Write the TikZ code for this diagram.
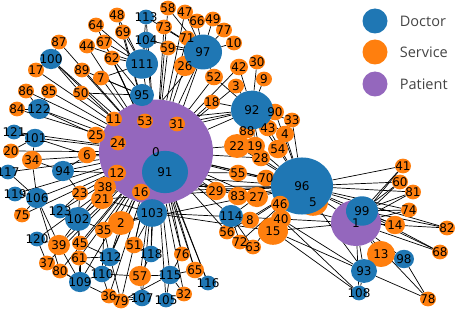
\documentclass[tikz,border=0pt]{standalone}
\usepackage{fontspec}
\usepackage{xcolor}
\usepackage{tikz}
\usetikzlibrary{positioning,shapes.geometric,backgrounds}
\newfontfamily\numfont{DejaVu Sans}
\newfontfamily\keyfont{Open Sans}
\definecolor{doctorblue}{HTML}{1F77B4}
\definecolor{serviceorange}{HTML}{FF7F0E}
\definecolor{patientpurple}{HTML}{9467BD}
\definecolor{keygray}{HTML}{444444}

\begin{document}
\begin{tikzpicture}[x=1pt,y=-1pt,
  vertex/.style={ellipse,inner sep=0pt,minimum width=2*#1*1pt,minimum height=1.84*#1*1pt},
  numlabel/.style={inner sep=0pt,font=\numfont\fontsize{12}{12}\selectfont},
  link/.style={black,line width=0.7pt},
  keydot/.style={circle,inner sep=0pt,minimum size=25pt},
  keytext/.style={inner sep=0pt,text=keygray,font=\keyfont\fontsize{14.5}{14.5}\selectfont}]
\useasboundingbox (0,0) rectangle (456,310);
% Patients
\foreach \n/\x/\y/\r in {0/156/152/57, 1/356/223/25}
  \node[vertex=\r,fill=patientpurple] (v\n) at (\x,\y) {};
% Services
\foreach \n/\x/\y/\r in {2/121/223/13, 3/236/86/8, 4/285/134/9, 5/313/202/15, 6/87/155/9,
  7/101/78/8, 8/250/220/9, 9/264/79/8, 10/234/43/8, 11/114/119/8, 12/117/173/9,
  13/381/254/14, 14/395/225/10, 15/273/231/15, 16/141/192/9, 17/36/70/8, 18/212/102/8,
  19/255/146/10, 20/11/151/8, 21/102/199/11, 22/237/146/13, 23/80/193/8, 24/118/143/8,
  25/96/135/9, 26/185/66/11, 27/257/197/11, 28/261/158/9, 29/216/191/10, 30/257/62/8,
  31/177/124/8, 32/184/294/8, 33/292/120/8, 34/32/160/10, 35/104/230/9, 36/109/296/8,
  37/47/263/8, 38/105/187/11, 39/59/245/11, 40/281/219/10, 41/403/166/8, 42/239/67/9,
  43/268/128/9, 44/87/46/8, 45/80/243/8, 47/185/12/8, 48/117/15/8, 49/213/19/8,
  50/81/93/8, 51/134/245/9, 52/214/77/9, 53/145/121/8, 54/278/149/10, 55/238/173/9,
  56/227/232/8, 57/140/276/11, 58/168/8/8, 59/168/48/8, 60/400/182/8, 61/79/258/8,
  62/112/58/8, 63/253/247/8, 64/96/25/8, 65/195/270/9, 66/197/21/8, 67/104/42/8,
  68/440/252/8, 69/123/32/8, 70/266/178/9, 71/187/38/8, 72/240/242/8, 73/164/27/8,
  74/409/210/8, 75/22/215/8, 76/182/254/8, 77/224/30/8, 78/428/299/8, 79/121/301/8,
  80/60/271/8, 81/413/192/8, 82/447/228/8, 83/238/196/10, 84/17/109/8, 85/49/91/8,
  86/26/91/8, 87/59/42/8, 88/247/131/8, 89/82/70/8, 90/275/112/9}
  \node[vertex=\r,fill=serviceorange] (v\n) at (\x,\y) {};
% Doctors
\foreach \n/\x/\y/\r in {91/165/172/23, 92/252/110/21, 93/364/271/13, 94/63/171/11,
  95/142/95/12, 96/302/186/31, 97/203/52/19, 98/404/259/10, 99/362/211/16,
  100/51/59/11, 101/35/138/10, 102/78/219/13, 103/152/213/15, 104/146/40/9,
  105/166/300/8, 106/37/198/11, 107/142/298/9, 108/359/293/8, 109/80/282/11,
  110/102/274/9, 111/142/64/16, 112/110/257/10, 113/146/17/8, 114/231/216/12,
  115/170/275/10, 116/208/283/8, 117/8/172/8, 118/151/254/9, 119/15/194/8,
  120/37/239/8, 121/14/132/8, 122/39/109/11, 123/60/211/8}
  \node[vertex=\r,fill=doctorblue] (v\n) at (\x,\y) {};
% service drawn over doctor 96
\node[vertex=9,fill=serviceorange] (v46) at (280,204) {};
% Edges
\begin{scope}[on background layer]
\foreach \hub/\ends in {
  0/{2,3,6,7,11,12,16,17,18,20,21,23,24,25,26,29,31,34,35,38,39,42,44,45,47,48,50,51,52,53,55,57,58,59,61,62,64,65,67,69,71,73,75,76,79,80,83,84,85,86,87,89,22,27,28,70,56,32,36,37},
  0/{92,94,95,96,97,100,101,102,103,104,105,106,107,109,110,111,112,113,114,115,116,117,118,119,120,121,122,123},
  1/{13,14,41,60,74,81,82,68,78,93,98,108,96,15,40,46},
  96/{55,70,27,46,40,15,8,83,29,28,54,41,60,81,74,14,82,68,19,22,4,33,43,90,63,72,56,2,12,16,21,38,93},
  92/{42,30,9,3,18,52,90,33,43,4,54,88,22,19,28,31,53,24},
  97/{58,47,66,49,73,77,71,59,10,26,52,113,104,31,53},
  111/{48,64,67,69,44,62,7,113,104},
  95/{7,50,89,62},
  91/{29,83,55,76,65,116},
  103/{2,51,118,16,12,35,21,40,15},
  102/{123,23,39,45,35,21,38,61},
  106/{119,75,117,34,39,80},
  101/{121,20,34,6},
  122/{86,85,84,25},
  100/{87,17,50,11},
  94/{34,6,23,12},
  109/{80,37,61,110,36,39,45},
  110/{57,36,61,35},
  112/{45,61,35,2,79},
  115/{57,76,65,32,105,79},
  114/{8,56,72,63,83,27},
  93/{13,78,108,15,40},
  108/{15,40},
  98/{78,13},
  99/{41,60,81,74,14,82,68},
  118/{51,57},
  107/{57,79,36},
  120/{39,37},
  123/{23}}
  \foreach \e in \ends
    \draw[link] (v\hub) -- (v\e);
\end{scope}
% Labels
\foreach \n in {0,...,123}
  \node[numlabel] (t\n) at (v\n) {\n};
% Legend
\foreach \k/\c/\txt/\y in {doctor/doctorblue/Doctor/21, service/serviceorange/Service/52,
  patient/patientpurple/Patient/84} {
  \node[keydot,fill=\c] (\k dot) at (375,\y) {};
  \node[keytext,right=12pt of \k dot] (\k text) {\txt};
}
\end{tikzpicture}
\end{document}
